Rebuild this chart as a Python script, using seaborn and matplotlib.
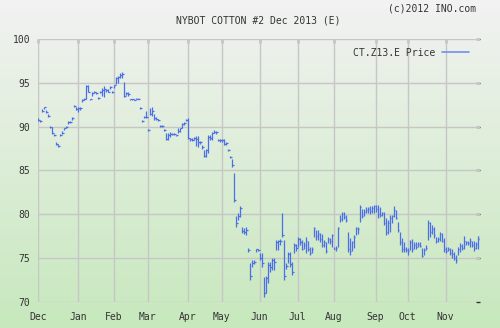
import numpy as np
import matplotlib
matplotlib.use("Agg")
import matplotlib.pyplot as plt
import seaborn as sns
from matplotlib.lines import Line2D

# ---- data ----
months = ["Dec", "Jan", "Feb", "Mar", "Apr", "May", "Jun", "Jul", "Aug", "Sep", "Oct", "Nov"]
month_start = [0, 20, 38, 55, 75, 92, 111, 130, 148, 169, 185, 204]

low = [90.6, 90.5, 91.7, 92.0, 91.6, 91.1, 89.9, 89.2, 88.9, 87.9, 87.7, 88.9, 89.2, 89.6, 89.9, 90.3, 90.4, 90.8, 92.2, 91.9,
       91.7, 91.9, 92.8, 93.0, 93.1, 93.9, 93.0, 93.5, 93.8, 93.7, 93.2, 93.8, 93.5, 93.4, 94.0, 93.9, 94.3, 93.8,
       94.4, 94.9, 95.0, 95.5, 95.6, 93.4, 93.6, 93.5, 93.0, 93.0, 93.0, 93.1, 93.1, 92.0, 90.5, 91.0, 91.0,
       89.5, 91.3, 91.2, 90.8, 90.8, 90.7, 90.0, 90.0, 89.5, 88.5, 88.5, 88.8, 89.0, 89.1, 88.9, 89.3, 89.4, 89.8, 90.2, 90.6,
       88.6, 88.4, 88.4, 88.5, 87.8, 87.7, 88.0, 87.5, 86.5, 86.5, 87.0, 88.5, 88.5, 89.3, 89.2, 88.4, 88.3,
       88.3, 87.9, 87.9, 87.2, 86.4, 85.4, 81.4, 78.6, 79.4, 79.7, 77.9, 77.8, 77.6, 75.7, 72.5, 74.0, 74.3, 75.7, 75.8,
       74.8, 74.0, 70.6, 71.0, 72.2, 73.4, 73.6, 73.6, 75.9, 75.9, 76.5, 77.4, 72.5, 73.8, 74.5, 74.0, 73.1, 75.6, 75.8,
       76.3, 76.5, 75.9, 76.1, 75.6, 75.8, 75.4, 75.6, 77.4, 77.1, 77.1, 76.8, 76.3, 76.3, 75.6, 76.7, 76.6, 76.3,
       76.0, 75.8, 76.3, 79.1, 79.2, 79.5, 79.1, 75.7, 75.4, 75.8, 76.2, 77.6, 77.8, 79.1, 79.6, 79.8, 80.2, 80.2, 80.0, 80.2, 80.2,
       80.3, 79.6, 79.7, 79.8, 78.8, 77.6, 77.8, 78.0, 79.0, 79.7, 79.5, 78.0, 76.5, 75.7, 75.7, 75.7,
       75.4, 75.9, 75.7, 76.1, 76.1, 76.3, 76.3, 75.1, 75.4, 75.9, 77.1, 77.4, 77.8, 77.3, 76.7, 76.9, 77.0, 76.8, 75.7,
       75.6, 75.8, 75.4, 75.0, 74.8, 74.5, 75.4, 75.7, 75.9, 76.1, 76.5, 76.5, 76.3, 76.3, 75.8, 76.1, 76.1, 77.1]

high = [91.0, 90.8, 92.0, 92.3, 91.9, 91.5, 90.1, 90.0, 89.2, 88.2, 88.0, 89.2, 89.5, 89.9, 90.1, 90.6, 90.6, 91.1, 92.5, 92.2,
        92.3, 92.2, 93.1, 93.3, 94.8, 94.8, 93.2, 93.9, 94.1, 94.0, 93.4, 94.1, 94.4, 94.6, 94.3, 94.3, 94.6, 94.1,
        94.8, 95.7, 95.8, 96.1, 96.2, 95.1, 93.9, 93.9, 93.2, 93.2, 93.2, 93.3, 93.3, 92.2, 90.8, 91.2, 91.8,
        89.7, 92.1, 92.2, 91.5, 91.1, 90.9, 90.2, 90.2, 89.7, 89.3, 89.3, 89.4, 89.3, 89.3, 89.1, 89.8, 89.9, 90.4, 90.5, 90.9,
        91.0, 88.7, 88.7, 88.8, 88.9, 88.9, 88.4, 87.9, 87.3, 87.5, 89.0, 89.0, 89.4, 89.6, 89.5, 88.6, 88.6,
        88.6, 88.6, 88.3, 87.5, 86.7, 86.3, 84.7, 79.8, 80.2, 80.9, 78.6, 78.4, 78.6, 76.2, 74.5, 74.8, 74.8, 76.1, 76.1,
        75.6, 75.6, 72.9, 73.0, 74.6, 74.6, 75.0, 75.0, 77.1, 77.1, 77.2, 80.2, 77.1, 74.4, 75.7, 75.7, 74.6, 76.7, 76.6,
        77.4, 77.3, 77.1, 76.8, 77.4, 77.0, 76.3, 76.3, 78.6, 78.2, 78.2, 77.9, 77.8, 77.1, 76.9, 77.4, 77.3, 77.8,
        76.3, 76.4, 78.6, 79.9, 80.3, 80.3, 79.9, 78.0, 77.3, 77.0, 77.6, 78.6, 78.6, 81.1, 80.6, 80.6, 80.8, 80.8, 80.9, 80.9, 81.1,
        81.1, 81.1, 80.8, 80.3, 80.3, 79.6, 79.3, 79.9, 79.9, 80.9, 80.5, 79.1, 78.0, 77.3, 76.8, 76.3,
        76.2, 77.1, 77.2, 76.8, 76.8, 76.8, 76.8, 76.2, 76.2, 76.5, 79.3, 79.1, 78.8, 78.6, 77.4, 77.4, 78.0, 77.9, 77.3,
        76.3, 76.3, 76.2, 76.0, 75.7, 75.4, 76.3, 76.7, 76.6, 77.5, 77.0, 77.0, 77.3, 77.0, 77.0, 76.8, 77.5, 77.6]

close = [90.8, 90.6, 91.8, 92.2, 91.7, 91.2, 90.0, 89.3, 89.0, 88.0, 87.8, 89.0, 89.3, 89.8, 90.0, 90.5, 90.5, 91.0, 92.4, 92.0,
         92.1, 92.1, 93.0, 93.2, 94.6, 94.0, 93.1, 93.8, 94.0, 93.8, 93.3, 94.0, 94.2, 94.3, 94.2, 94.0, 94.5, 93.9,
         94.7, 95.5, 95.7, 95.9, 96.0, 93.5, 93.8, 93.7, 93.1, 93.1, 93.0, 93.2, 93.2, 92.1, 90.6, 91.1, 91.1,
         89.6, 91.4, 91.8, 91.0, 90.9, 90.8, 90.1, 90.1, 89.6, 88.6, 89.0, 89.2, 89.2, 89.2, 89.0, 89.5, 89.8, 90.3, 90.4, 90.8,
         88.7, 88.6, 88.5, 88.7, 88.6, 88.3, 88.2, 87.7, 86.7, 87.3, 88.8, 88.7, 89.3, 89.4, 89.4, 88.5, 88.5,
         88.5, 88.0, 88.1, 87.3, 86.5, 85.6, 81.6, 79.0, 79.8, 80.7, 78.1, 78.0, 78.2, 75.9, 73.0, 74.5, 74.6, 76.0, 75.9,
         75.0, 74.4, 71.0, 72.7, 74.2, 74.0, 74.8, 74.6, 76.8, 77.0, 77.0, 77.6, 73.0, 74.1, 75.5, 74.3, 73.4, 76.5, 76.2,
         77.2, 76.8, 76.0, 76.5, 77.0, 76.0, 75.6, 76.1, 78.4, 77.5, 77.8, 77.2, 76.5, 76.9, 75.8, 77.2, 77.0, 77.6,
         76.1, 76.2, 78.4, 79.5, 80.0, 79.7, 79.4, 76.0, 75.8, 76.8, 77.4, 78.4, 78.3, 80.8, 79.8, 80.3, 80.5, 80.6, 80.4, 80.7, 80.9,
         80.6, 80.0, 79.9, 80.1, 79.0, 78.0, 79.0, 79.6, 79.8, 80.5, 79.6, 78.2, 76.8, 76.0, 76.1, 75.9,
         75.8, 76.8, 76.0, 76.5, 76.3, 76.6, 76.4, 75.3, 75.9, 76.2, 79.0, 78.0, 78.3, 77.6, 77.0, 77.2, 77.8, 77.0, 76.0,
         75.8, 76.0, 75.6, 75.5, 75.0, 74.8, 76.1, 76.4, 76.2, 77.0, 76.8, 76.7, 77.0, 76.5, 76.2, 76.6, 77.2, 77.4]

yticks = [70, 75, 80, 85, 90, 95, 100]
series_label = "CT.Z13.E Price"
title = "NYBOT COTTON #2 Dec 2013 (E)"
credit = "(c)2012 INO.com"

# ---- style ----
sns.set_style("white")
plt.rcParams["font.family"] = ["DejaVu Sans Mono", "DejaVu Sans"]

fig = plt.figure(figsize=(5.0, 3.28), dpi=100)

# background gradient over whole figure
bg = fig.add_axes([0, 0, 1, 1], zorder=0)
top_c = np.array([0.95, 0.95, 0.95])
bot_c = np.array([0.78, 0.91, 0.74])
t = np.linspace(0, 1, 256)[:, None]
grad = (top_c[None, :] * (1 - t) + bot_c[None, :] * t)[:, None, :]
bg.imshow(grad, aspect="auto", extent=[0, 1, 0, 1])
bg.set_axis_off()

ax = fig.add_axes([0.075, 0.0793, 0.885, 0.8018], zorder=1)
ax.patch.set_alpha(0)

x = np.arange(len(close))
bar_color = "#4a6fe6"
ax.vlines(x, low, high, color=bar_color, lw=0.9, zorder=3)
ax.hlines(close, x, x + 0.9, color=bar_color, lw=0.9, zorder=3)

ax.set_xlim(-0.25, 221.25)
ax.set_ylim(70, 100)
ax.set_xticks(month_start)
ax.set_xticklabels(months)
ax.set_yticks(yticks)
ax.set_yticklabels([str(v) for v in yticks])

grid_c = "#c6c6c6"
for v in yticks:
    ax.axhline(v, color=grid_c, lw=1.0, zorder=1)
for m in month_start:
    ax.axvline(m, color=grid_c, lw=1.0, zorder=1)

for s in ax.spines.values():
    s.set_visible(False)

ax.tick_params(axis="both", direction="in", length=3, width=1.0, color="#333333",
               top=True, right=True, labelsize=7, labelcolor="#333333", zorder=4)
ax.tick_params(axis="y", pad=5)
ax.tick_params(axis="x", pad=7)

handle = Line2D([], [], color="#6f8ff0", lw=1.2)
leg = ax.legend([handle], [series_label], loc="upper right", bbox_to_anchor=(0.995, 1.0),
                frameon=False, markerfirst=False, handlelength=2.8, handletextpad=0.7,
                prop={"size": 7, "family": "DejaVu Sans Mono"})
for txt in leg.get_texts():
    txt.set_color("#333333")

fig.text(0.516, 0.938, title, ha="center", va="center", fontsize=7, color="#333333")
fig.text(0.952, 0.975, credit, ha="right", va="center", fontsize=7, color="#333333")

fig.savefig("out.png", dpi=100)
